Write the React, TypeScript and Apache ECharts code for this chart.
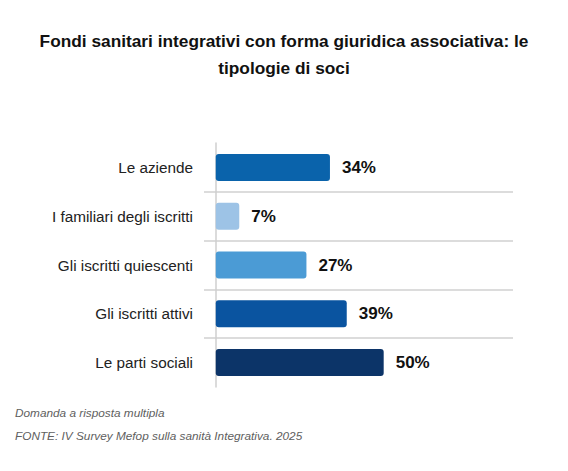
import React, { useRef, useEffect } from 'react'
import * as echarts from 'echarts'

const categories = [
  'Le aziende',
  'I familiari degli iscritti',
  'Gli iscritti quiescenti',
  'Gli iscritti attivi',
  'Le parti sociali',
]
const values = [34, 7, 27, 39, 50]
const barColors = ['#0a63ab', '#9dc3e6', '#4b9bd5', '#0a54a0', '#0c3468']

function App() {
  const chartRef = useRef(null)

  useEffect(() => {
    const chart = echarts.init(chartRef.current, null, { renderer: 'svg' })

    const option = {
      animation: false,
      backgroundColor: '#ffffff',
      textStyle: { fontFamily: 'Liberation Sans, Arial, sans-serif' },
      title: {
        text: 'Fondi sanitari integrativi con forma giuridica associativa: le\ntipologie di soci',
        left: 'center',
        top: 22,
        textStyle: {
          fontSize: 17.3,
          fontWeight: 'bold',
          color: '#111111',
          lineHeight: 27,
          fontFamily: 'Liberation Sans, Arial, sans-serif',
        },
      },
      grid: { left: 204, right: 55, top: 143, bottom: 84 },
      xAxis: {
        type: 'value',
        min: -3.5,
        max: 88.5,
        show: false,
      },
      yAxis: {
        type: 'category',
        data: categories,
        inverse: true,
        axisLine: { show: true, lineStyle: { color: '#cfcfcf', width: 1.5 } },
        axisTick: { show: false },
        axisLabel: {
          margin: 11,
          fontSize: 15.3,
          color: '#222222',
          fontFamily: 'Liberation Sans, Arial, sans-serif',
        },
        splitLine: {
          show: true,
          showMinLine: false,
          showMaxLine: false,
          lineStyle: { color: '#d0d0d0', width: 1.5 },
        },
      },
      series: [
        {
          type: 'bar',
          data: values.map((v, i) => ({ value: v, itemStyle: { color: barColors[i] } })),
          barWidth: 27,
          itemStyle: { borderRadius: 3 },
          label: {
            show: true,
            position: 'right',
            distance: 12,
            formatter: '{c}%',
            fontSize: 17,
            fontWeight: 'bold',
            color: '#111111',
            fontFamily: 'Liberation Sans, Arial, sans-serif',
          },
        },
      ],
      graphic: [
        {
          type: 'text',
          left: 15,
          top: 407,
          style: {
            text: 'Domanda a risposta multipla',
            fontSize: 11.8,
            fontStyle: 'italic',
            fill: '#606060',
            fontFamily: 'Liberation Sans, Arial, sans-serif',
          },
        },
        {
          type: 'text',
          left: 15,
          top: 430,
          style: {
            text: 'FONTE: IV Survey Mefop sulla sanità Integrativa. 2025',
            fontSize: 11.8,
            fontStyle: 'italic',
            fill: '#606060',
            fontFamily: 'Liberation Sans, Arial, sans-serif',
          },
        },
      ],
    }

    chart.setOption(option)

    return () => {
      chart.dispose()
    }
  }, [])

  return (
    <div
      ref={chartRef}
      style={{ position: 'fixed', left: 0, top: 0, width: 568, height: 471 }}
    ></div>
  )
}

export default App
